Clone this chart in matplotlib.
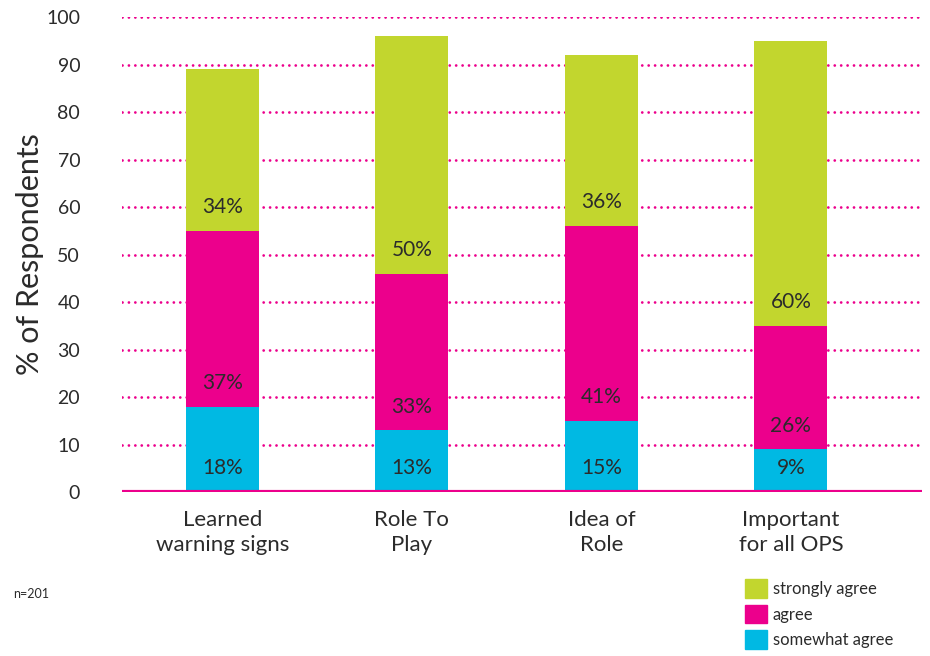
import matplotlib.pyplot as plt
from matplotlib.patches import Patch

plt.rcParams['font.family'] = ['Lato', 'DejaVu Sans']

categories = ['Learned\nwarning signs', 'Role To\nPlay', 'Idea of\nRole', 'Important\nfor all OPS']
somewhat_agree = [18, 13, 15, 9]
agree = [37, 33, 41, 26]
strongly_agree = [34, 50, 36, 60]

series = [
    ('somewhat agree', somewhat_agree, '#00b9e3'),
    ('agree', agree, '#ec008c'),
    ('strongly agree', strongly_agree, '#c2d62e'),
]

text_color = '#2b2b2b'
grid_color = '#ec008c'

fig = plt.figure(figsize=(9.3, 6.56), dpi=100)
ax = fig.add_axes([0.131, 0.25, 0.86, 0.724])

x = list(range(len(categories)))
bottoms = [0] * len(categories)
for name, values, color in series:
    ax.bar(x, values, bottom=bottoms, width=0.385, color=color, zorder=2)
    for i, v in enumerate(values):
        ax.text(x[i], bottoms[i] + 5, f'{v}%', ha='center', va='center',
                fontsize=15, color=text_color, zorder=3)
    bottoms = [b + v for b, v in zip(bottoms, values)]

# dotted gridlines at every 10, solid baseline at 0
for y in range(10, 101, 10):
    ax.axhline(y, color=grid_color, linestyle=(0, (0.01, 2.3)), linewidth=2,
               dash_capstyle='round', zorder=1)
ax.axhline(0, color=grid_color, linewidth=3, zorder=3)

ax.set_xlim(-0.53, 3.69)
ax.set_ylim(0, 100)
ax.set_yticks(range(0, 101, 10))
ax.set_xticks(x)
ax.set_xticklabels(categories, fontsize=16, color=text_color, linespacing=1.3)
ax.tick_params(axis='y', length=0, pad=30, labelsize=14, labelcolor=text_color)
ax.tick_params(axis='x', length=0, pad=13)
for s in ax.spines.values():
    s.set_visible(False)

ax.set_ylabel('% of Respondents', fontsize=22, color=text_color)
ax.yaxis.set_label_coords(-0.097, 0.5)

handles = [Patch(color=c, label=n) for n, _, c in reversed(series)]
fig.legend(handles=handles, loc='lower left', bbox_to_anchor=(0.785, -0.012),
           frameon=False, fontsize=12, handlelength=1.3, handleheight=1.35,
           handletextpad=0.35, labelspacing=0.4, labelcolor=text_color)

fig.text(0.014, 0.088, 'n=201', fontsize=9, color=text_color)

fig.savefig('out.png', dpi=100)
